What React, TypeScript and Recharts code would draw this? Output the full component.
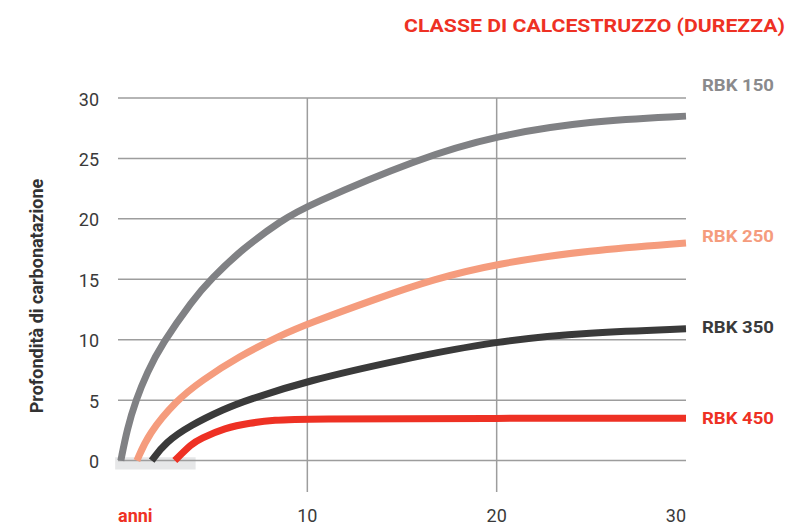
import React from "react";
import { LineChart, Line, XAxis, YAxis, ReferenceLine, ReferenceArea } from "recharts";

// Years (x) and carbonation depth (y)
const years150 = [0.15, 0.48, 0.94, 1.54, 2.3, 3.95, 4.9, 6.55, 8.66, 10, 15.86, 20, 24.9, 30];
const rbk150 = [0, 2.6, 5, 7.3, 9.6, 13.3, 15.0, 17.5, 19.9, 21.1, 25, 26.9, 28.1, 28.5];

const years250 = [1.0, 1.6, 3.1, 4.4, 6.36, 8.65, 10, 13.66, 16.65, 20, 24.9, 30];
const rbk250 = [0, 2.2, 5, 6.6, 8.6, 10.4, 11.3, 13.4, 15, 16.3, 17.4, 18.0];

const years350 = [1.78, 2.5, 3.8, 5.65, 6.8, 10, 14.9, 20, 24.9, 30];
const rbk350 = [0, 1.5, 2.9, 4.3, 5, 6.6, 8.35, 9.9, 10.6, 10.9];

const years450 = [3.0, 3.9, 4.33, 5.65, 6.97, 8.3, 9.6, 20, 30];
const rbk450 = [0, 1.4, 1.8, 2.7, 3.12, 3.35, 3.45, 3.5, 3.5];

const xTicks = [0, 10, 20, 30];
const yTicks = [0, 5, 10, 15, 20, 25, 30];
const vGrid = [10, 20];

const seriesNames = ["RBK 150", "RBK 250", "RBK 350", "RBK 450"];
const title = "CLASSE DI CALCESTRUZZO (DUREZZA)";
const yTitle = "Profondità di carbonatazione";
const xTitle = "anni";

const COLORS = ["#808184", "#F59C7D", "#3A3A3A", "#EE3124"];
const LABEL_COLORS = ["#8A8A8C", "#F59C7D", "#3A3A3A", "#EE3124"];
const GRID = "#9D9D9D";

const build = (xs: number[], vs: number[]) => vs.map((v, i) => ({ x: xs[i], v }));
const d150 = build(years150, rbk150);
const d250 = build(years250, rbk250);
const d350 = build(years350, rbk350);
const d450 = build(years450, rbk450);
const seriesData = [d150, d250, d350, d450];

const FONT = "Roboto, 'DejaVu Sans', sans-serif";

const XTick = (props: any) => {
  const { x, y, payload } = props;
  if (payload.value === 0) {
    return (
      <text x={x} y={y + 29.5} textAnchor="start" fill="#EE3124" fontFamily={FONT} fontWeight={700} fontSize={18}>
        {xTitle}
      </text>
    );
  }
  return (
    <text x={x} y={y + 29.5} textAnchor={payload.value === 30 ? "end" : "middle"} fill="#3a3a3a" fontFamily={FONT} fontSize={18}>
      {payload.value}
    </text>
  );
};

const YTick = (props: any) => {
  const { x, y, payload } = props;
  return (
    <text x={x} y={y + 7.5} textAnchor="end" fill="#3a3a3a" fontFamily={FONT} fontSize={18}>
      {payload.value}
    </text>
  );
};

const labelBaselines = [91, 242, 333, 424];

export default function App() {
  return (
    <div style={{ position: "absolute", left: 0, top: 0, width: 792, height: 524, background: "#fff" }}>
      <LineChart width={792} height={524} margin={{ top: 98, right: 106, bottom: 2, left: 18 }}>
        <XAxis
          dataKey="x"
          type="number"
          domain={[0, 30]}
          ticks={xTicks}
          axisLine={false}
          tickLine={false}
          tickSize={0}
          tickMargin={0}
          height={30}
          tick={<XTick />}
          interval={0}
        />
        <YAxis
          type="number"
          domain={[-2.6, 30]}
          ticks={yTicks}
          axisLine={false}
          tickLine={false}
          tickSize={0}
          tickMargin={19}
          width={100}
          tick={<YTick />}
          interval={0}
        />
        <ReferenceArea x1={-0.15} x2={4.1} y1={0.27} y2={-0.74} fill="#E6E7E8" fillOpacity={1} stroke="none" ifOverflow="visible" />
        {yTicks.map((t) => (
          <ReferenceLine key={"h" + t} y={t} stroke={GRID} strokeWidth={1.5} />
        ))}
        {vGrid.map((t) => (
          <ReferenceLine key={"v" + t} x={t} stroke={GRID} strokeWidth={1.5} />
        ))}
        {seriesData.map((d, i) => (
          <Line
            key={seriesNames[i]}
            data={d}
            dataKey="v"
            type="basis"
            stroke={COLORS[i]}
            strokeWidth={7}
            dot={false}
            activeDot={false}
            isAnimationActive={false}
            name={seriesNames[i]}
          />
        ))}
      </LineChart>
      <svg width={792} height={524} style={{ position: "absolute", left: 0, top: 0, pointerEvents: "none" }}>
        <text x={785} y={32} textAnchor="end" fill="#EE3124" fontFamily={FONT} fontWeight={700} fontSize={19} textLength={381} lengthAdjust="spacingAndGlyphs">
          {title}
        </text>
        <text
          x={0}
          y={0}
          transform="translate(43 296) rotate(-90)"
          textAnchor="middle"
          fill="#333"
          fontFamily={FONT}
          fontWeight={700}
          fontSize={18}
        >
          {yTitle}
        </text>
        {seriesNames.map((n, i) => (
          <text key={n} x={702} y={labelBaselines[i]} fill={LABEL_COLORS[i]} fontFamily={FONT} fontWeight={700} fontSize={17} textLength={72} lengthAdjust="spacingAndGlyphs">
            {n}
          </text>
        ))}
      </svg>
    </div>
  );
}
